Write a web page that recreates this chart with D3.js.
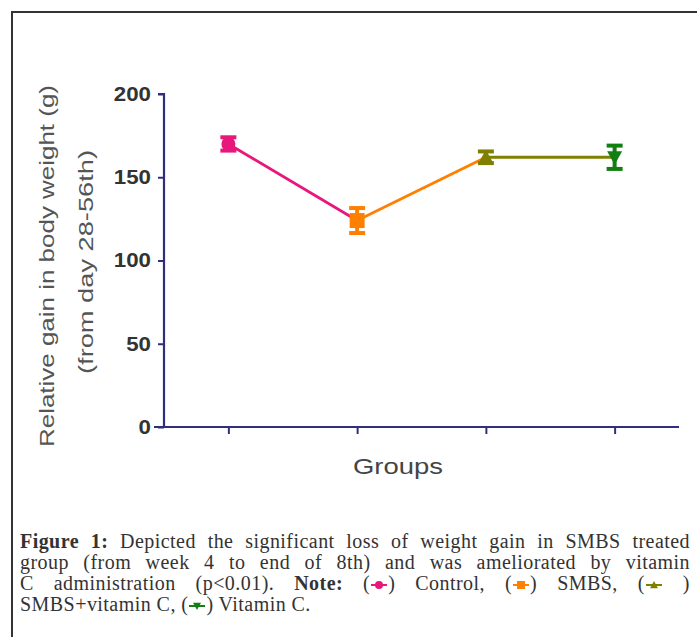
<!DOCTYPE html>
<html>
<head>
<meta charset="utf-8">
<script src="https://cdn.jsdelivr.net/npm/d3@7"></script>
<style>
  html, body { margin: 0; padding: 0; background: #fff; }
  body { width: 697px; height: 637px; position: relative; overflow: hidden; }
  svg { position: absolute; left: 0; top: 0; }
  #caption { position: absolute; left: 20px; top: 531px; width: 670px;
    font-family: "Liberation Serif", "DejaVu Serif", serif; font-size: 20px; color: #333; letter-spacing: 0.45px; }
  #caption .ln { height: 21px; line-height: 21px; white-space: nowrap; text-align: justify; text-align-last: justify; }
  #caption .ln.last { text-align-last: left; }
  #caption svg.icon { position: static; display: inline-block; vertical-align: -1px; }
</style>
</head>
<body>
<svg id="chart" width="697" height="637"></svg>
<div id="caption"></div>
<script>
// ---- data ----
const groups = ["Control", "SMBS", "SMBS+vitamin C", "Vitamin C"];
const means = [170, 124, 162, 162];
const errors = [4, 7.5, 3.5, 7];
const colors = ["#e8177c", "#ff8000", "#808000", "#137f13"];
const shapes = ["circle", "square", "triangle", "invtriangle"];
const yTicks = [0, 50, 100, 150, 200];
const yTitle = ["Relative gain in body weight (g)", "(from day 28-56th)"];
const xTitle = "Groups";

const svg = d3.select("#chart");

// frame
svg.append("path").attr("d", "M12,637 L12,12 L697,12")
  .attr("fill", "none").attr("stroke", "#333").attr("stroke-width", 2);

const x = d3.scalePoint().domain(groups).range([164, 679]).padding(0.5);
const y = d3.scaleLinear().domain([0, 200]).range([427, 94]);
const axisColor = "#2f2f7d";

// y axis
const ya = svg.append("g").attr("transform", "translate(164,0)")
  .call(d3.axisLeft(y).tickValues(yTicks).tickSize(6).tickPadding(7));
ya.select(".domain").attr("stroke", axisColor).attr("stroke-width", 2.2).attr("d", `M-6,${y(200)}H0V${y(0)}`);
ya.selectAll(".tick line").attr("stroke", axisColor).attr("stroke-width", 2);
ya.selectAll(".tick text").attr("fill", "#333").attr("font-family", "Liberation Sans, Arial, sans-serif")
  .attr("font-size", 19.5).attr("font-weight", "bold")
  .attr("textLength", d => String(d).length * 12.4).attr("lengthAdjust", "spacingAndGlyphs");

// x axis
const xa = svg.append("g").attr("transform", `translate(0,${y(0)})`)
  .call(d3.axisBottom(x).tickSize(7).tickFormat(""));
xa.select(".domain").attr("stroke", axisColor).attr("stroke-width", 2.2).attr("d", `M154,0H679`);
xa.selectAll(".tick line").attr("stroke", axisColor).attr("stroke-width", 2);

// axis titles
svg.append("text").attr("x", 398).attr("y", 474).attr("text-anchor", "middle")
  .attr("font-family", "Liberation Sans, Arial, sans-serif").attr("font-size", 22).attr("fill", "#444")
  .attr("textLength", 90).attr("lengthAdjust", "spacingAndGlyphs").text(xTitle);

const yt = [{t: yTitle[0], cx: 54, cy: 266, len: 362}, {t: yTitle[1], cx: 93, cy: 262, len: 224}];
yt.forEach(o => {
  svg.append("text").attr("transform", `translate(${o.cx},${o.cy}) rotate(-90)`)
    .attr("text-anchor", "middle").attr("font-family", "Liberation Sans, Arial, sans-serif")
    .attr("font-size", 20.5).attr("fill", "#555")
    .attr("textLength", o.len).attr("lengthAdjust", "spacingAndGlyphs").text(o.t);
});

// connecting segments, coloured by starting group
const pts = groups.map((g, i) => ({g, m: means[i], e: errors[i], c: colors[i], s: shapes[i]}));
for (let i = 0; i < pts.length - 1; i++) {
  svg.append("line")
    .attr("x1", x(pts[i].g)).attr("y1", y(pts[i].m))
    .attr("x2", x(pts[i + 1].g)).attr("y2", y(pts[i + 1].m))
    .attr("stroke", pts[i].c).attr("stroke-width", 2.8);
}

// error bars + markers
function shapePath(s, size) {
  const h = size / 2;
  if (s === "square") return `M${-h},${-h}H${h}V${h}H${-h}Z`;
  if (s === "triangle") return `M0,${-h}L${h},${h * 0.8}L${-h},${h * 0.8}Z`;
  if (s === "invtriangle") return `M${-h},${-h * 0.8}H${h}L0,${h}Z`;
  return d3.symbol(d3.symbolCircle, size * size * 0.785)();
}
pts.forEach(p => {
  const cx = x(p.g), top = y(p.m + p.e), bot = y(p.m - p.e);
  const g = svg.append("g");
  g.append("line").attr("x1", cx).attr("x2", cx).attr("y1", top).attr("y2", bot)
    .attr("stroke", p.c).attr("stroke-width", 4);
  [top, bot].forEach(yy => g.append("line").attr("x1", cx - 8).attr("x2", cx + 8)
    .attr("y1", yy).attr("y2", yy).attr("stroke", p.c).attr("stroke-width", 4));
  g.append("path").attr("transform", `translate(${cx},${y(p.m)})`)
    .attr("d", shapePath(p.s, p.s === "circle" ? 14 : (p.s === "square" ? 15 : 15)))
    .attr("fill", p.c);
});

// caption
function icon(i) {
  const w = 18, h = 12;
  const s = d3.create("svg").attr("class", "icon").attr("width", w).attr("height", h);
  s.append("line").attr("x1", 1).attr("x2", w - 1).attr("y1", h / 2).attr("y2", h / 2)
    .attr("stroke", colors[i]).attr("stroke-width", 2);
  s.append("path").attr("transform", `translate(${w / 2},${h / 2})`)
    .attr("d", shapePath(shapes[i], 8)).attr("fill", colors[i]);
  return s.node().outerHTML;
}
const capLines = [
  `<b>Figure 1:</b> Depicted the significant loss of weight gain in SMBS treated`,
  `group (from week 4 to end of 8th) and was ameliorated by vitamin`,
  `C administration (p&lt;0.01). <b>Note:</b> (${icon(0)}) Control, (${icon(1)}) SMBS, (${icon(2)} )`,
  `SMBS+vitamin C, (${icon(3)}) Vitamin C.`
];
d3.select("#caption").selectAll("div").data(capLines).join("div")
  .attr("class", (d, i) => i === capLines.length - 1 ? "ln last" : "ln")
  .html(d => d);
</script>
</body>
</html>
